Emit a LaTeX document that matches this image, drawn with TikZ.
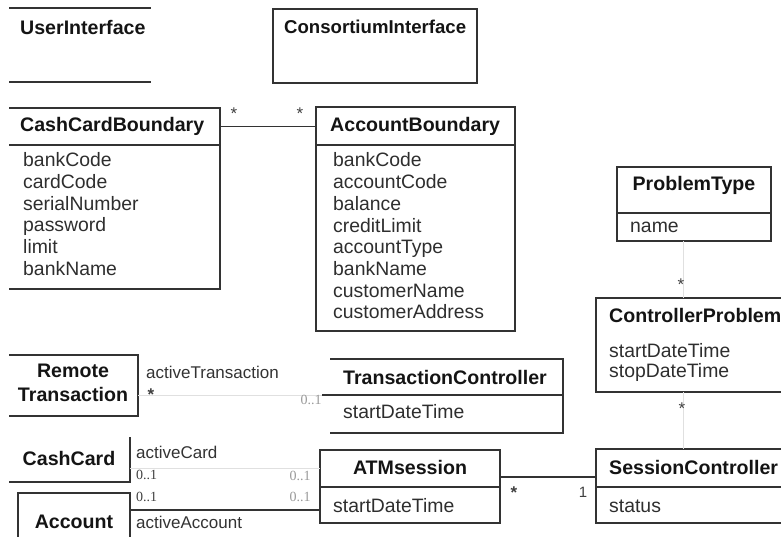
\documentclass[tikz,border=0pt]{standalone}
\usepackage{fontspec}
\setmainfont{Liberation Sans}
\newfontfamily\multfont{Liberation Serif}
\begin{document}
\begin{tikzpicture}[x=1pt,y=-1pt,
  frame/.style={anchor=north west,inner sep=0pt,outer sep=0pt},
  edge/.style={draw=black!80,line width=1.3pt},
  faint/.style={draw=black!12,line width=1pt},
  cls/.style={font=\fontsize{19.6}{21}\selectfont\bfseries,inner sep=0pt,text=black!92},
  attr/.style={font=\fontsize{19.4}{21}\selectfont,anchor=base west,inner sep=0pt,text=black!82},
  role/.style={font=\fontsize{17}{19}\selectfont,anchor=west,inner sep=0pt,text=black!80},
  mult/.style={font=\multfont\fontsize{14}{15}\selectfont,inner sep=0pt,text=black!75},
  pale/.style={mult,text=black!40},
  star/.style={font=\fontsize{17}{18}\selectfont,inner sep=0pt,text=black!75}]
\useasboundingbox (0,0) rectangle (781,537);
\clip (0,0) rectangle (781,537);
% frames
\node[frame,minimum width=142pt,minimum height=74pt] (ui) at (9,8) {};
\node[frame,minimum width=204pt,minimum height=74pt] (ci) at (273,9) {};
\node[frame,minimum width=211pt,minimum height=37pt] (ccbh) at (9,108) {};
\node[frame,minimum width=211pt,minimum height=144pt] (ccbb) at (9,145) {};
\node[frame,minimum width=199pt,minimum height=38pt] (abh) at (316,107) {};
\node[frame,minimum width=199pt,minimum height=186pt] (abb) at (316,145) {};
\node[frame,minimum width=154pt,minimum height=46pt] (pth) at (617,167) {};
\node[frame,minimum width=154pt,minimum height=28pt] (ptb) at (617,213) {};
\node[frame,minimum width=200pt,minimum height=94pt] (cp) at (596,298) {};
\node[frame,minimum width=200pt,minimum height=38pt] (sch) at (596,449) {};
\node[frame,minimum width=200pt,minimum height=36pt] (scb) at (596,487) {};
\node[frame,minimum width=180pt,minimum height=37pt] (atmh) at (320,450) {};
\node[frame,minimum width=180pt,minimum height=36pt] (atmb) at (320,487) {};
\node[frame,minimum width=233pt,minimum height=36pt] (tch) at (330,359) {};
\node[frame,minimum width=233pt,minimum height=38pt] (tcb) at (330,395) {};
\node[frame,minimum width=129pt,minimum height=61pt] (rt) at (9,355) {};
\node[frame,minimum width=121pt,minimum height=45pt] (cc) at (9,437) {};
\node[frame,minimum width=112pt,minimum height=60pt] (acc) at (18,493) {};
% box outlines
\draw[edge] (ui.north west) -- (ui.north east) (ui.south west) -- (ui.south east);
\draw[edge] (ci.north west) rectangle (ci.south east);
\draw[edge] (ccbh.north west) -- (ccbh.north east) -- (ccbb.south east) -- (ccbb.south west);
\draw[edge] (ccbh.south west) -- (ccbh.south east);
\draw[edge] (abh.north west) rectangle (abb.south east);
\draw[edge] (abh.south west) -- (abh.south east);
\draw[edge] (pth.north west) rectangle (ptb.south east);
\draw[edge] (pth.south west) -- (pth.south east);
\draw[edge] (cp.north east) -- (cp.north west) -- (cp.south west) -- (cp.south east);
\draw[edge] (sch.north east) -- (sch.north west) -- (scb.south west) -- (scb.south east);
\draw[edge] (sch.south west) -- (sch.south east);
\draw[edge] (atmh.north west) rectangle (atmb.south east);
\draw[edge] (atmh.south west) -- (atmh.south east);
\draw[edge] (tch.north west) -- (tch.north east) -- (tcb.south east) -- (tcb.south west);
\draw[edge] (tch.south west) -- (tch.south east);
\draw[edge] (rt.north west) -- (rt.north east) -- (rt.south east) -- (rt.south west);
\draw[edge] (cc.north east) -- (cc.south east) -- (cc.south west);
\draw[edge] (acc.south west) -- (acc.north west) -- (acc.north east) -- (acc.south east);
% class names
\node[cls,anchor=west] (uit) at (20,27) {UserInterface};
\node[cls,anchor=west,font=\fontsize{18.6}{21}\selectfont\bfseries] (cit) at (284,27) {ConsortiumInterface};
\node[cls,anchor=west] (ccbt) at (20,126) {CashCardBoundary};
\node[cls,anchor=west] (abt) at (330,126) {AccountBoundary};
\node[cls] (ptt) at (694,185) {ProblemType};
\node[cls,anchor=west] (cpt) at (609,315) {ControllerProblem};
\node[cls,anchor=west] (sct) at (609,467) {SessionController};
\node[cls] (atmt) at (410,467) {ATMsession};
\node[cls,anchor=west] (tct) at (343,377) {TransactionController};
\node[cls,align=center,font=\fontsize{19.6}{23.5}\selectfont\bfseries] (rtt) at (73,383) {Remote\\Transaction};
\node[cls] (cct) at (69,458) {CashCard};
\node[cls] (acct) at (74,522) {Account};
% attributes
\foreach \t [count=\i from 0] in {bankCode,cardCode,serialNumber,password,limit,bankName}
  \node[attr] (ccba\i) at (23,167+21.6*\i) {\t};
\foreach \t [count=\i from 0] in {bankCode,accountCode,balance,creditLimit,accountType,bankName,customerName,customerAddress}
  \node[attr] (aba\i) at (333,167+21.7*\i) {\t};
\node[attr] (pta) at (630,233) {name};
\node[attr] (cpa1) at (609,357) {startDateTime};
\node[attr] (cpa2) at (609,377) {stopDateTime};
\node[attr] (sca) at (609,512) {status};
\node[attr] (atma) at (333,512) {startDateTime};
\node[attr] (tca) at (343,418) {startDateTime};
% associations
\draw[edge] (ccbh.east) -- (ccbh.east -| abh.west);
\node[star] (m1) at (234,114) {*};
\node[star] (m2) at (300,114) {*};
\draw[edge] ([yshift=-8.5pt]atmh.east) -- ([yshift=-8.5pt]atmh.east -| sch.west);
\node[star,font=\fontsize{17}{18}\selectfont\bfseries] (m3) at (514,493) {*};
\node[star,font=\fontsize{15}{16}\selectfont] (m4) at (583,492) {1};
\draw[faint] ([xshift=-11pt]ptb.south) -- ([xshift=-11pt]ptb.south |- cp.north);
\node[star] (m5) at (681,285) {*};
\draw[faint] ([xshift=-11pt]ptb.south |- cp.south) -- ([xshift=-11pt]ptb.south |- sch.north);
\node[star] (m6) at (682,409) {*};
\draw[faint] (rt.east |- tch.south west) -- ([xshift=-8pt]tch.south west);
\draw[edge] ([xshift=-8pt]tch.south west) -- (tch.south west);
\node[role] (r1) at (146,372) {activeTransaction};
\node[star,font=\fontsize{17}{18}\selectfont\bfseries] (m7) at (151,395) {*};
\node[pale] (m8) at (311,400) {0..1};
\draw[faint] (cc.east |- atmh.west) -- (atmh.west);
\node[role] (r2) at (136,452) {activeCard};
\node[mult,anchor=west] (m9) at (136,475) {0..1};
\node[pale] (m10) at (300,476) {0..1};
\draw[edge] ([yshift=-5pt]atmb.west -| acc.east) -- ([yshift=-5pt]atmb.west);
\node[mult,anchor=west] (m11) at (136,497) {0..1};
\node[role] (r3) at (136,522) {activeAccount};
\node[pale] (m12) at (300,497) {0..1};
\end{tikzpicture}
\end{document}
